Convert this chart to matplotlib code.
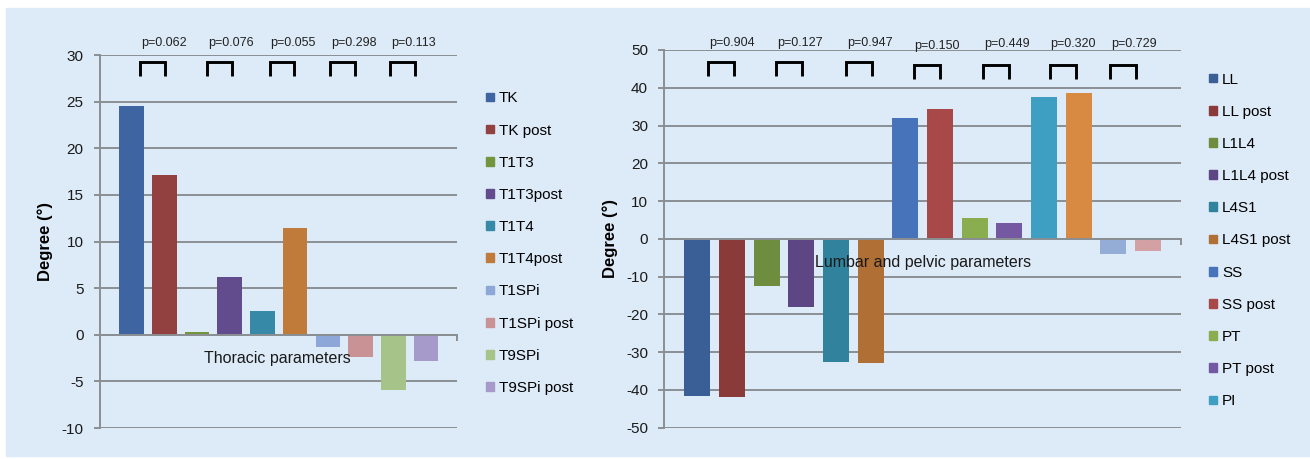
import numpy as np
import matplotlib.pyplot as plt
from matplotlib.patches import Patch, Rectangle

plt.rcParams['font.family'] = ['Liberation Sans', 'DejaVu Sans']
plt.rcParams['axes.unicode_minus'] = False

# thoracic parameters (left chart)
thor_labels = ['TK', 'TK post', 'T1T3', 'T1T3post', 'T1T4', 'T1T4post',
               'T1SPi', 'T1SPi post', 'T9SPi', 'T9SPi post']
thor_values = [24.5, 17.1, 0.3, 6.2, 2.6, 11.5, -1.3, -2.4, -5.9, -2.8]
thor_p = ['0.062', '0.076', '0.055', '0.298', '0.113']
thor_ticks = [-10, -5, 0, 5, 10, 15, 20, 25, 30]

# lumbar and pelvic parameters (right chart), last three not in the legend
lumb_labels = ['LL', 'LL post', 'L1L4', 'L1L4 post', 'L4S1', 'L4S1 post',
               'SS', 'SS post', 'PT', 'PT post', 'PI', 'PI post',
               'PI-LL', 'PI-LL post']
lumb_values = [-41.5, -41.9, -12.6, -18.0, -32.5, -32.8,
               32.1, 34.5, 5.4, 4.1, 37.5, 38.5, -4.0, -3.1]
lumb_p = ['0.904', '0.127', '0.947', '0.150', '0.449', '0.320', '0.729']
lumb_ticks = [-50, -40, -30, -20, -10, 0, 10, 20, 30, 40, 50]
lumb_legend_n = 11

thor_colors = ['#3E65A1', '#934040', '#72953E', '#634C8E', '#368AA8', '#C07A3A',
               '#8DA8D8', '#C99294', '#A6C48A', '#A59AC9']
lumb_colors = ['#3A5E96', '#8B3A3A', '#6E8D3E', '#5D4683', '#31829D', '#B06F35',
               '#4673B9', '#A84848', '#8AAE4F', '#7558A2', '#3F9FC2', '#D88A43',
               '#94ADD6', '#D3A0A4']

bg = '#DDEAF7'
grid_c = '#8A8F93'

fig = plt.figure(figsize=(13.1, 4.59), dpi=100)
fig.patches.append(Rectangle((6/1310, 3/459), 1 - 6/1310, (459 - 11)/459,
                             transform=fig.transFigure, color=bg, zorder=-10))


def draw_panel(ax, labels, values, colors, ticks, pvals, br_x, br_y, p_y,
               title, title_xy, n_leg, leg_xy, pad):
    n = len(values)
    x = np.arange(n)
    ax.set_facecolor('none')
    ax.bar(x, values, width=0.75, color=colors, zorder=3)
    ax.set_xlim(-0.96, n - 1 + 0.96)
    ax.set_ylim(ticks[0], ticks[-1])
    ax.set_yticks(ticks)
    ax.set_yticklabels([str(t) for t in ticks])
    ax.yaxis.grid(True, color=grid_c, lw=1.4, zorder=0)
    for s in ['top', 'right']:
        ax.spines[s].set_visible(False)
    ax.spines['left'].set_color(grid_c)
    ax.spines['left'].set_linewidth(1.4)
    ax.spines['bottom'].set_position(('data', 0))
    ax.spines['bottom'].set_color(grid_c)
    ax.spines['bottom'].set_linewidth(1.4)
    ax.spines['bottom'].set_zorder(4)
    ax.set_xticks([n - 1 + 0.96])
    ax.set_xticklabels([''])
    ax.tick_params(axis='x', length=4, width=1.4, color=grid_c)
    ax.tick_params(axis='y', length=4, width=1.4, color=grid_c, pad=pad,
                   labelsize=11, labelcolor='#1a1a1a')
    ax.set_ylabel('Degree (°)', fontsize=12, fontweight='bold')
    # p-value brackets between pre/post pairs
    for i, p in enumerate(pvals):
        x0 = br_x[i]
        x1 = x0 + 0.75
        ax.plot([x0, x0, x1, x1], [br_y[i][0], br_y[i][1], br_y[i][1], br_y[i][0]],
                color='black', lw=2.1, clip_on=False, zorder=5,
                solid_joinstyle='miter', solid_capstyle='butt')
        ax.text(x0 + 0.02, p_y[i], 'p=' + p, fontsize=9, ha='left', va='center',
                color='#222222', clip_on=False)
    ax.text(title_xy[0], title_xy[1], title, fontsize=11.5, ha='center',
            va='center', color='#1a1a1a', zorder=6)
    handles = [Patch(color=c) for c in colors[:n_leg]]
    ax.legend(handles, labels[:n_leg], loc='upper left', bbox_to_anchor=leg_xy,
              bbox_transform=fig.transFigure, frameon=False, fontsize=11,
              handlelength=0.5, handleheight=0.5, handletextpad=0.35,
              labelspacing=1.19, borderpad=0, borderaxespad=0)


ax1 = fig.add_axes([0.0765, 0.0675, 0.2727, 0.8126])
draw_panel(ax1, thor_labels, thor_values, thor_colors, thor_ticks, thor_p,
           [0.26, 2.31, 4.22, 6.07, 7.91],
           [(27.75, 29.2)] * 5, [31.25] * 5,
           'Thoracic parameters', (4.47, -2.55), len(thor_labels), (0.371, 0.801),
           8)
ax1.yaxis.set_label_coords(-0.132, 0.5)

ax2 = fig.add_axes([0.5069, 0.0682, 0.3947, 0.8229])
draw_panel(ax2, lumb_labels, lumb_values, lumb_colors, lumb_ticks, lumb_p,
           [0.31, 2.28, 4.29, 6.25, 8.25, 10.17, 11.92],
           [(43.1, 46.8)] * 3 + [(42.3, 46.0)] * 4,
           [51.9] * 3 + [51.1] + [51.5] * 3,
           'Lumbar and pelvic parameters', (6.51, -6.27), lumb_legend_n,
           (0.923, 0.842), 7.5)
ax2.yaxis.set_label_coords(-0.089, 0.5)

plt.savefig('out.png', dpi=100)
